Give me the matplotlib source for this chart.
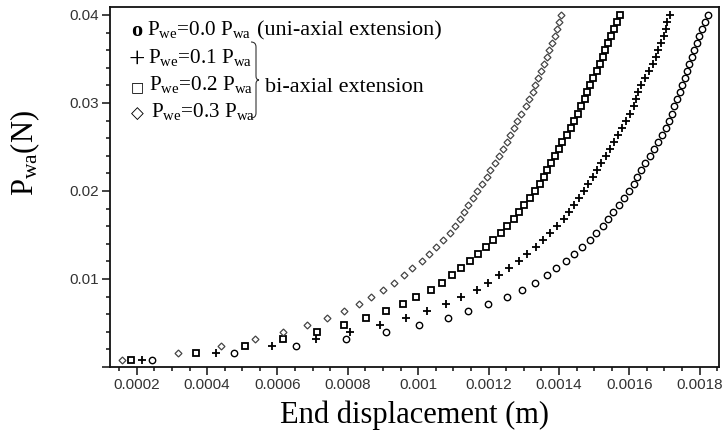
import numpy as np
import matplotlib
matplotlib.use("Agg")
import matplotlib.pyplot as plt
from matplotlib.ticker import MultipleLocator, FuncFormatter
from matplotlib.path import Path
from matplotlib.patches import PathPatch

# applied force P_wa (N), same load steps for every curve
force = [0.0008, 0.0016, 0.0024, 0.0032, 0.0040, 0.0048, 0.0056, 0.0064, 0.0072, 0.0080,
         0.0088, 0.0096, 0.0104, 0.0112, 0.0120, 0.0128, 0.0136, 0.0144, 0.0152, 0.0160,
         0.0168, 0.0176, 0.0184, 0.0192, 0.0200, 0.0208, 0.0216, 0.0224, 0.0232, 0.0240,
         0.0248, 0.0256, 0.0264, 0.0272, 0.0280, 0.0288, 0.0296, 0.0304, 0.0312, 0.0320,
         0.0328, 0.0336, 0.0344, 0.0352, 0.0360, 0.0368, 0.0376, 0.0384, 0.0392, 0.0400]

# end displacement (m) for P_we = 0.0 / 0.1 / 0.2 / 0.3 P_wa
disp_00 = [0.000244, 0.000476, 0.000654, 0.000795, 0.000908, 0.001002, 0.001084, 0.001142, 0.001199, 0.001251,
           0.001295, 0.001332, 0.001365, 0.001393, 0.001419, 0.001443, 0.001466, 0.001488, 0.001505, 0.001524,
           0.001540, 0.001554, 0.001571, 0.001585, 0.001599, 0.001612, 0.001623, 0.001633, 0.001644, 0.001659,
           0.001670, 0.001681, 0.001693, 0.001703, 0.001713, 0.001721, 0.001728, 0.001735, 0.001743, 0.001750,
           0.001757, 0.001764, 0.001771, 0.001778, 0.001785, 0.001792, 0.001799, 0.001806, 0.001815, 0.001825]
disp_01 = [0.000214, 0.000425, 0.000585, 0.000709, 0.000806, 0.000891, 0.000965, 0.001024, 0.001078, 0.001123,
           0.001166, 0.001199, 0.001229, 0.001258, 0.001286, 0.001310, 0.001335, 0.001356, 0.001376, 0.001395,
           0.001414, 0.001430, 0.001444, 0.001458, 0.001471, 0.001484, 0.001496, 0.001507, 0.001521, 0.001534,
           0.001545, 0.001556, 0.001568, 0.001580, 0.001592, 0.001602, 0.001612, 0.001619, 0.001626, 0.001633,
           0.001644, 0.001656, 0.001667, 0.001676, 0.001683, 0.001691, 0.001698, 0.001704, 0.001708, 0.001715]
disp_02 = [0.000185, 0.000368, 0.000507, 0.000616, 0.000713, 0.000790, 0.000851, 0.000908, 0.000956, 0.000995,
           0.001035, 0.001068, 0.001097, 0.001123, 0.001147, 0.001170, 0.001192, 0.001214, 0.001234, 0.001252,
           0.001271, 0.001287, 0.001301, 0.001318, 0.001332, 0.001346, 0.001357, 0.001367, 0.001377, 0.001389,
           0.001400, 0.001410, 0.001422, 0.001433, 0.001444, 0.001455, 0.001464, 0.001474, 0.001481, 0.001488,
           0.001497, 0.001507, 0.001516, 0.001524, 0.001531, 0.001539, 0.001548, 0.001556, 0.001565, 0.001573]
disp_03 = [0.000157, 0.000316, 0.000439, 0.000536, 0.000616, 0.000683, 0.000740, 0.000789, 0.000831, 0.000865,
           0.000901, 0.000931, 0.000959, 0.000983, 0.001010, 0.001030, 0.001050, 0.001070, 0.001089, 0.001104,
           0.001119, 0.001131, 0.001142, 0.001155, 0.001168, 0.001181, 0.001195, 0.001205, 0.001219, 0.001231,
           0.001241, 0.001251, 0.001262, 0.001272, 0.001282, 0.001293, 0.001306, 0.001316, 0.001325, 0.001332,
           0.001340, 0.001350, 0.001359, 0.001366, 0.001373, 0.001380, 0.001389, 0.001394, 0.001400, 0.001407]

legend_rows = [r"P$_{\rm we}$=0.0 P$_{\rm wa}$", r"P$_{\rm we}$=0.1 P$_{\rm wa}$",
               r"P$_{\rm we}$=0.2 P$_{\rm wa}$", r"P$_{\rm we}$=0.3 P$_{\rm wa}$"]

plt.rcParams['mathtext.fontset'] = 'custom'
plt.rcParams['mathtext.rm'] = 'Liberation Serif'
plt.rcParams['mathtext.it'] = 'Liberation Serif:italic'

W, H = 725, 437
fig = plt.figure(figsize=(W / 100, H / 100), dpi=100)
ax = fig.add_axes([110 / W, 1 - 367 / H, 609 / W, 360 / H])

ax.plot(disp_00, force, ls='none', marker='o', ms=4.6, mfc='none', mec='black', mew=1.0)
ax.plot(disp_01, force, ls='none', marker='+', ms=6.0, color='black', mew=1.3)
ax.plot(disp_02, force, ls='none', marker='s', ms=5.0, mfc='none', mec='black', mew=1.3)
ax.plot(disp_03, force, ls='none', marker='D', ms=3.5, mfc='none', mec='#444444', mew=0.9)

ax.set_xlim(0.000124, 0.001855)
ax.set_ylim(0, 0.0409)

ax.xaxis.set_major_locator(MultipleLocator(0.0002))
ax.xaxis.set_minor_locator(MultipleLocator(0.00005))
ax.yaxis.set_major_locator(MultipleLocator(0.01))
ax.yaxis.set_minor_locator(MultipleLocator(0.002))
ax.xaxis.set_major_formatter(FuncFormatter(lambda v, p: '%g' % round(v, 5)))
ax.yaxis.set_major_formatter(FuncFormatter(lambda v, p: '' if abs(v) < 1e-9 else '%g' % round(v, 4)))

ax.tick_params(which='both', direction='out', top=False, right=False, colors='#222222',
               labelsize=11, pad=2.5, width=1.2)
ax.tick_params(which='major', length=5.5)
ax.tick_params(which='minor', length=3)
for lab in ax.get_xticklabels() + ax.get_yticklabels():
    lab.set_family('Liberation Sans')
    lab.set_color('#333333')
for s in ax.spines.values():
    s.set_linewidth(1.3)
    s.set_color('#111111')

ax.set_xlabel('End displacement (m)', family='Liberation Serif', fontsize=22, labelpad=6)
ax.set_ylabel(r'P$_{\rm wa}$(N)', family='Liberation Serif', fontsize=22)
ax.yaxis.set_label_coords(-0.112, 0.594)

# hand made legend in the upper left corner
def px(x, y):
    return x / W, 1 - y / H

symbols = ['o', '+', '\u25a1', '\u25c7']
sym_font = [['Liberation Serif'], ['Liberation Serif'], ['DejaVu Sans'], ['DejaVu Sans']]
sym_size = [16, 21, 10, 12]
sym_xy = [(137, 29), (137, 57), (137.5, 86), (137.5, 112)]
row_y = [35, 63, 90, 117]
row_x = [147, 148, 149, 151]
for i in range(4):
    fig.text(*px(*sym_xy[i]), symbols[i], family=sym_font[i], fontsize=sym_size[i],
             fontweight='bold' if i == 0 else 'normal', va='center_baseline', ha='center')
    fig.text(*px(row_x[i], row_y[i]), legend_rows[i], family='Liberation Serif',
             fontsize=15.2, va='baseline', ha='left')
fig.text(*px(257, 35), '(uni-axial extension)', family='Liberation Serif', fontsize=16,
         va='baseline', ha='left')
fig.text(*px(265, 92), 'bi-axial extension', family='Liberation Serif', fontsize=16,
         va='baseline', ha='left')

# curly brace grouping the bi-axial rows
brace = [(251, 42), (256, 42), (256, 47), (256, 76), (256, 80), (259, 80),
         (256, 80), (256, 84), (256, 113), (256, 118), (251, 118)]
codes = [Path.MOVETO, Path.CURVE3, Path.CURVE3, Path.LINETO, Path.CURVE3, Path.CURVE3,
         Path.CURVE3, Path.CURVE3, Path.LINETO, Path.CURVE3, Path.CURVE3]
verts = [px(x, y) for x, y in brace]
fig.patches.append(PathPatch(Path(verts, codes), transform=fig.transFigure,
                             fill=False, lw=0.8, edgecolor='#333333'))

fig.savefig('out.png', dpi=100)
